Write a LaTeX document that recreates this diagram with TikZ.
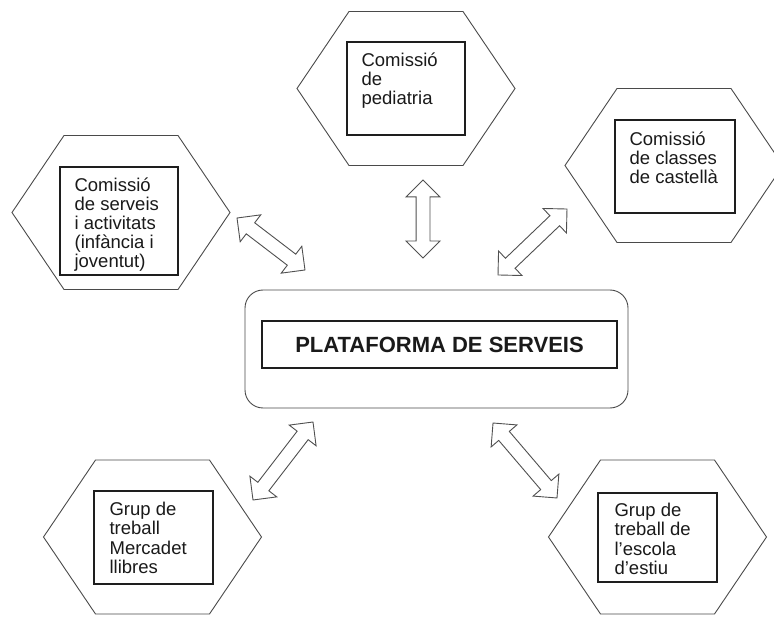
\documentclass[tikz,border=0pt]{standalone}
\usepackage{fontspec}
\setmainfont{Liberation Sans}
\usetikzlibrary{shapes.arrows,calc}
\definecolor{hexgray}{HTML}{4A4A4A}
\definecolor{boxgray}{HTML}{1E1E1E}
\definecolor{arrgray}{HTML}{505050}
\definecolor{txt}{HTML}{1A1A1A}
\newcommand\hexa[3]{%
  \coordinate (#1) at (#2,#3);
  \draw[hexline, shift={(#1)}] (-57,-77) -- (57,-77) -- (109,0) -- (57,77) -- (-57,77) -- (-109,0) -- cycle;
}
\newcommand\dblarr[3]{%
  \path let \p1=(#2), \p2=(#3), \n1={atan2(\y2-\y1,\x2-\x1)}, \n2={veclen(\x2-\x1,\y2-\y1)} in
    node[darrow, rotate=\n1, minimum height=\n2] (#1) at ($(#2)!0.5!(#3)$) {};
}
\begin{document}
\begin{tikzpicture}[x=1pt,y=-1pt,
  hexline/.style={draw=hexgray, line width=0.9pt},
  inbox/.style={draw=boxgray, line width=1.2pt, inner sep=0pt},
  lbl/.style={anchor=north west, align=left, inner sep=0pt, text=txt,
    font=\fontsize{18.5}{19.2}\selectfont},
  darrow/.style={double arrow, draw=arrgray, line width=0.9pt, fill=white,
    double arrow head extend=10pt, double arrow tip angle=90,
    inner xsep=0pt, inner ysep=6.5pt, minimum width=1pt}]
\useasboundingbox (0,0) rectangle (774,617);
\fill[white] (0,0) rectangle (774,617);

% hexagons
\hexa{hT}{406}{88.5}
\hexa{hL}{121}{212.5}
\hexa{hR}{674}{165.5}
\hexa{hBL}{152.5}{537}
\hexa{hBR}{657.5}{537}

% inner boxes
\node[inbox, minimum width=118pt, minimum height=93pt] (bT) at (406,88.5) {};
\node[inbox, minimum width=118pt, minimum height=108pt] (bL) at (119,221) {};
\node[inbox, minimum width=120pt, minimum height=93pt] (bR) at (675,166.5) {};
\node[inbox, minimum width=119pt, minimum height=93pt] (bBL) at (153.5,537.5) {};
\node[inbox, minimum width=119pt, minimum height=89pt] (bBR) at (657.5,537.5) {};

% labels
\node[lbl] (tT) at ($(bT.north west)+(15,9)$) {\rule{0pt}{16pt}Comissió\\de\\pediatria};
\node[lbl] (tL) at ($(bL.north west)+(15,8.5)$) {\rule{0pt}{16pt}Comissió\\de serveis\\i activitats\\(infància i\\joventut)};
\node[lbl] (tR) at ($(bR.north west)+(15,10)$) {\rule{0pt}{16pt}Comissió\\de classes\\de castellà};
\node[lbl] (tBL) at ($(bBL.north west)+(16,9)$) {\rule{0pt}{16pt}Grup de\\treball\\Mercadet\\llibres};
\node[lbl] (tBR) at ($(bBR.north west)+(17,8)$) {\rule{0pt}{16pt}Grup de\\treball de\\l'escola\\d'estiu};

% central platform
\node[draw=hexgray, line width=0.9pt, rounded corners=18pt, minimum width=383pt, minimum height=118pt] (plat) at (436.5,349) {};
\node[inbox, minimum width=355pt, minimum height=47pt, font=\fontsize{22}{26}\selectfont\bfseries, text=txt] (platin) at (439.5,344.5) {PLATAFORMA DE SERVEIS};

% arrow end points
\coordinate (aT1) at (423,180);  \coordinate (aT2) at (423,258);
\coordinate (aL1) at (237,218);  \coordinate (aL2) at (305,270);
\coordinate (aR1) at (567,209);  \coordinate (aR2) at (498,275);
\coordinate (aBL1) at (313,422); \coordinate (aBL2) at (253,500);
\coordinate (aBR1) at (493,423); \coordinate (aBR2) at (557,498);

\dblarr{arT}{aT1}{aT2}
\dblarr{arL}{aL1}{aL2}
\dblarr{arR}{aR1}{aR2}
\dblarr{arBL}{aBL1}{aBL2}
\dblarr{arBR}{aBR1}{aBR2}
\end{tikzpicture}
\end{document}
